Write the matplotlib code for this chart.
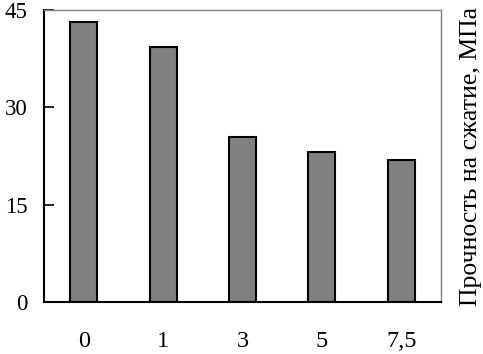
import matplotlib
matplotlib.use("Agg")
import matplotlib.pyplot as plt

categories = ["0", "1", "3", "5", "7,5"]
values = [43.1, 39.3, 25.4, 23.1, 21.9]
yticks = [0, 15, 30, 45]

plt.rcParams['font.family'] = ['Liberation Serif', 'DejaVu Serif']
fig = plt.figure(figsize=(4.83, 3.54), dpi=100)
ax = fig.add_axes([44/483, 1 - 302/354, 397/483, 292/354])
x = list(range(len(categories)))
ax.bar(x, values, width=0.34, color='#808080', edgecolor='black', linewidth=1.5)
ax.set_xlim(-0.5, len(categories) - 0.5)
ax.set_ylim(0, 45)
ax.set_yticks(yticks)
ax.set_yticklabels([str(t) for t in yticks], fontsize=16.5)
ax.set_xticks(x)
ax.set_xticklabels(categories, fontsize=17.5)
ax.tick_params(axis='x', length=0, pad=21)
ax.tick_params(axis='y', direction='in', length=7, width=1.2, pad=12)
for s in ['left', 'bottom']:
    ax.spines[s].set_linewidth(1.5)
    ax.spines[s].set_color('black')
for s in ['top', 'right']:
    ax.spines[s].set_linewidth(1.0)
    ax.spines[s].set_color('#808080')
ax.yaxis.set_label_position('right')
ax.set_ylabel("Прочность на сжатие, МПа", fontsize=18.5, labelpad=14)
fig.savefig("out.png", dpi=100)
